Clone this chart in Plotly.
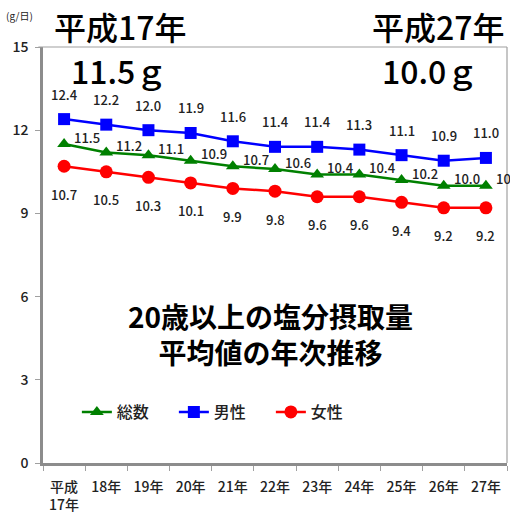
import plotly.graph_objects as go

# 年次（平成17年〜27年）
years = ["平成<br>17年", "18年", "19年", "20年", "21年", "22年", "23年", "24年", "25年", "26年", "27年"]

# 食塩摂取量の平均値（g/日）
total = [11.5, 11.2, 11.1, 10.9, 10.7, 10.6, 10.4, 10.4, 10.2, 10.0, 10.0]
male = [12.4, 12.2, 12.0, 11.9, 11.6, 11.4, 11.4, 11.3, 11.1, 10.9, 11.0]
female = [10.7, 10.5, 10.3, 10.1, 9.9, 9.8, 9.6, 9.6, 9.4, 9.2, 9.2]

FONT = "Noto Sans CJK JP"
TXT = "#222222"

fig = go.Figure()

series = [
    ("総数", total, "#008000", "triangle-up", 12),
    ("男性", male, "#0000FF", "square", 12),
    ("女性", female, "#FF0000", "circle", 13),
]
for name, vals, color, sym, size in series:
    fig.add_trace(go.Scatter(
        x=years, y=vals, name=name, mode="lines+markers",
        line=dict(color=color, width=2.5),
        marker=dict(symbol=sym, size=size, color=color),
        cliponaxis=False,
    ))

# 値ラベル
lab_font = dict(family=FONT, size=13, color=TXT, weight=500)
ann = []
for x, v in zip(years, male):
    ann.append(dict(x=x, y=v, text=f"{v:.1f}", yshift=25))
for x, v in zip(years, total):
    ann.append(dict(x=x, y=v, text=f"{v:.1f}", xanchor="left", xshift=8, yshift=7))
for x, v in zip(years, female):
    ann.append(dict(x=x, y=v, text=f"{v:.1f}", yshift=-28))
for a in ann:
    a.update(xref="x", yref="y", showarrow=False, font=lab_font)

# 見出し（ピクセル位置で指定し、後で paper 座標へ変換）
big = dict(family=FONT, size=32, color="#000000", weight=500)
heads = [
    dict(text="平成17年", x=52, y=26, xanchor="left", font=big),
    dict(text="11.5ｇ", x=69, y=70, xanchor="left", font=big),
    dict(text="平成27年", x=506, y=26, xanchor="right", font=big),
    dict(text="10.0ｇ", x=480, y=70, xanchor="right", font=big),
    dict(text="(g/日)", x=4, y=16, xanchor="left",
         font=dict(family=FONT, size=10, color=TXT)),
    dict(text="<b>20歳以上の塩分摂取量<br>平均値の年次推移</b>", x=270, y=334,
         xanchor="center", font=dict(family=FONT, size=28, color="#000000")),
]

L, R, T, B = 43, 3, 47, 52
W, H = 510, 515
pw, ph = W - L - R, H - T - B
for a in heads:
    a.update(xref="paper", yref="paper", showarrow=False, yanchor="middle",
             x=(a["x"] - L) / pw, y=(H - a["y"] - B) / ph)
ann += heads

fig.update_layout(
    width=W, height=H,
    margin=dict(l=L, r=R, t=T, b=B, autoexpand=False),
    paper_bgcolor="white", plot_bgcolor="white",
    font=dict(family=FONT, color=TXT),
    annotations=ann,
    showlegend=True,
    legend=dict(
        orientation="h", x=0.073, y=(H - 412 - B) / ph, xanchor="left", yanchor="middle",
        font=dict(family=FONT, size=16, color=TXT, weight=500),
        bgcolor="rgba(0,0,0,0)", entrywidth=52, entrywidthmode="pixels",
    ),
    xaxis=dict(
        type="category", tickson="boundaries", ticks="outside", ticklen=5,
        tickcolor="#a0a0a0", showline=True, linecolor="#8c8c8c", linewidth=2.5,
        showgrid=False, tickfont=dict(family=FONT, size=14, color=TXT, weight=500),
        ticklabelstandoff=9, range=[-0.5, 10.5], automargin=False,
    ),
    yaxis=dict(
        range=[0, 15], dtick=3, ticks="outside", ticklen=5, tickcolor="#a0a0a0",
        showline=True, linecolor="#8c8c8c", linewidth=2.5, showgrid=False,
        zeroline=False, ticklabelstandoff=4, automargin=False,
        tickfont=dict(family=FONT, size=14, color=TXT, weight=500),
    ),
    shapes=[
        dict(type="line", xref="paper", yref="paper", x0=-0.01, x1=1, y0=1, y1=1,
             line=dict(color="#a0a0a0", width=1.2)),
        dict(type="line", xref="paper", yref="paper", x0=1, x1=1, y0=0, y1=1,
             line=dict(color="#a0a0a0", width=1.2)),
    ],
)

fig.write_html("out.html")
